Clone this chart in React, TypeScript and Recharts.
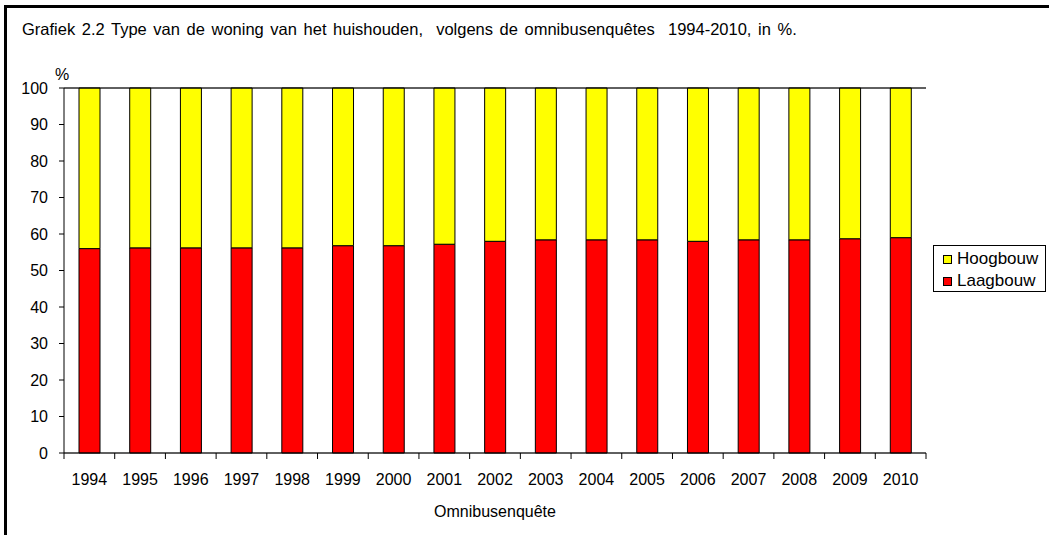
import React from "react";
import {
  BarChart,
  Bar,
  XAxis,
  YAxis,
  CartesianGrid,
  Legend,
  ReferenceLine,
} from "recharts";

const years = [
  "1994", "1995", "1996", "1997", "1998", "1999", "2000", "2001", "2002",
  "2003", "2004", "2005", "2006", "2007", "2008", "2009", "2010",
];
const laagbouw = [
  56.0, 56.2, 56.2, 56.2, 56.2, 56.8, 56.8, 57.2, 58.0,
  58.4, 58.4, 58.4, 58.0, 58.4, 58.4, 58.7, 59.0,
];
const hoogbouw = laagbouw.map((v) => Math.round((100 - v) * 10) / 10);
const yTicks = [0, 10, 20, 30, 40, 50, 60, 70, 80, 90, 100];

const data = years.map((year, i) => ({
  year,
  Laagbouw: laagbouw[i],
  Hoogbouw: hoogbouw[i],
}));

const FONT = '"Liberation Sans", Arial, sans-serif';
const PLOT_LEFT = 64;
const PLOT_RIGHT = 926;
const BAND = (PLOT_RIGHT - PLOT_LEFT) / years.length;

const XTick = (props: any) => {
  const { x, y, payload, index } = props;
  const half = BAND / 2;
  return (
    <g>
      <line x1={x - half} y1={y} x2={x - half} y2={y + 6} stroke="#000" />
      {index === years.length - 1 && (
        <line x1={x + half} y1={y} x2={x + half} y2={y + 6} stroke="#000" />
      )}
      <text x={x} y={y + 32} textAnchor="middle" fontSize={16} fill="#000" fontFamily={FONT}>
        {payload.value}
      </text>
    </g>
  );
};

const legendItems = [
  { name: "Hoogbouw", color: "#ffff00" },
  { name: "Laagbouw", color: "#ff0000" },
];

const LegendBox = () => (
  <div
    style={{
      width: 111,
      height: 43,
      paddingTop: 2,
      border: "1px solid #000",
      background: "#fff",
      fontFamily: FONT,
      fontSize: 17,
      boxSizing: "content-box",
    }}
  >
    {legendItems.map((item) => (
      <div key={item.name} style={{ display: "flex", alignItems: "center", height: 22, paddingLeft: 9 }}>
        <span
          style={{
            width: 7,
            height: 7,
            background: item.color,
            border: "1px solid #000",
            marginRight: 5,
            display: "inline-block",
          }}
        />
        <span>{item.name}</span>
      </div>
    ))}
  </div>
);

const App: React.FC = () => {
  return (
    <div
      style={{
        position: "fixed",
        left: 0,
        top: 0,
        width: 1049,
        height: 535,
        overflow: "hidden",
        background: "#fff",
      }}
    >
      <div
        style={{
          position: "absolute",
          left: 4,
          top: 5,
          width: 1200,
          height: 800,
          borderLeft: "3px solid #000",
          borderTop: "3px solid #000",
        }}
      />
      <div
        style={{
          position: "absolute",
          left: 22,
          top: 20,
          fontFamily: FONT,
          fontSize: 16.5,
          wordSpacing: 2,
          whiteSpace: "pre",
          color: "#000",
        }}
      >
        Grafiek 2.2 Type van de woning van het huishouden,  volgens de omnibusenquêtes  1994-2010, in %.
      </div>
      <div
        style={{
          position: "absolute",
          left: 55,
          top: 66,
          fontFamily: FONT,
          fontSize: 16,
          color: "#000",
        }}
      >
        %
      </div>
      <div style={{ position: "absolute", left: 0, top: 0 }}>
        <BarChart
          width={1049}
          height={535}
          data={data}
          margin={{ top: 88, right: 1049 - PLOT_RIGHT, left: 10, bottom: 16 }}
          barSize={21}
        >
          <CartesianGrid vertical={false} stroke="#808080" strokeWidth={1} />
          <XAxis
            dataKey="year"
            tick={<XTick />}
            tickLine={false}
            tickSize={0}
            tickMargin={0}
            interval={0}
            height={66}
            axisLine={{ stroke: "#000" }}
            label={{
              value: "Omnibusenquête",
              position: "insideBottom",
              offset: 2,
              fontSize: 16,
              fill: "#000",
              fontFamily: FONT,
            }}
          />
          <YAxis
            yAxisId="left"
            domain={[0, 100]}
            ticks={yTicks}
            interval={0}
            width={54}
            tickSize={5}
            tickMargin={11}
            axisLine={{ stroke: "#000" }}
            tickLine={{ stroke: "#000" }}
            tick={{ fontSize: 16, fill: "#000", fontFamily: FONT }}
          />
          <YAxis
            yAxisId="right"
            orientation="right"
            domain={[0, 100]}
            width={0}
            tick={false}
            tickLine={false}
            axisLine={{ stroke: "#000" }}
          />
          <ReferenceLine yAxisId="left" y={100} stroke="#000" />
          <Legend
            layout="horizontal"
            verticalAlign="middle"
            align="center"
            content={<LegendBox />}
            wrapperStyle={{ position: "absolute", left: 933, top: 245, width: 113 }}
          />
          <Bar
            yAxisId="left"
            dataKey="Laagbouw"
            stackId="a"
            fill="#ff0000"
            stroke="#000"
            strokeWidth={1}
            isAnimationActive={false}
          />
          <Bar
            yAxisId="left"
            dataKey="Hoogbouw"
            stackId="a"
            fill="#ffff00"
            stroke="#000"
            strokeWidth={1}
            isAnimationActive={false}
          />
        </BarChart>
      </div>
    </div>
  );
};

export default App;
